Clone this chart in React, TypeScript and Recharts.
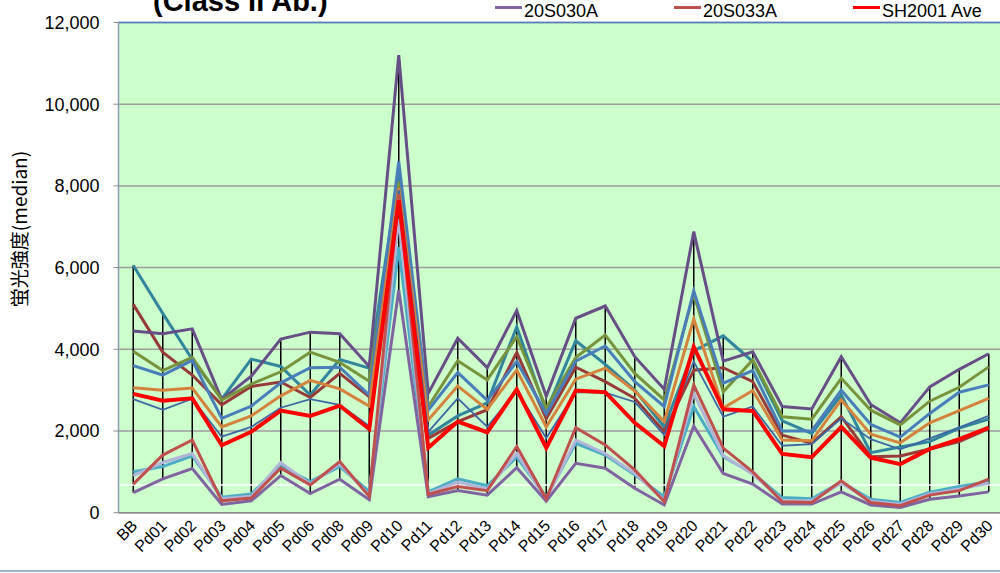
import { ComposedChart, Line, Bar, XAxis, YAxis, CartesianGrid, ReferenceLine } from "recharts";

const categories = [
  "BB", "Pd01", "Pd02", "Pd03", "Pd04", "Pd05", "Pd06", "Pd08", "Pd09", "Pd10",
  "Pd11", "Pd12", "Pd13", "Pd14", "Pd15", "Pd16", "Pd17", "Pd18", "Pd19", "Pd20",
  "Pd21", "Pd22", "Pd23", "Pd24", "Pd25", "Pd26", "Pd27", "Pd28", "Pd29", "Pd30",
];

const yTicks = [0, 2000, 4000, 6000, 8000, 10000, 12000];

// series, left to right
const tealLine = [6050, 4880, 3750, 2780, 3760, 3580, 2880, 3750, 3540, 8300, 1900, 2370, 2690, 4550, 2480, 4210, 3630, 3000, 2100, 3960, 4330, 3700, 2250, 1940, 2880, 1470, 1610, 1740, 2070, 2290];
const darkRedLine = [5100, 3930, 3370, 2640, 3090, 3200, 2820, 3410, 2840, 8050, 1820, 2230, 2520, 3920, 2300, 3560, 3210, 2800, 1980, 3490, 3550, 3210, 1900, 1700, 2350, 1370, 1390, 1560, 1740, 2060];
const purpleDarkLine = [4450, 4380, 4500, 2770, 3340, 4250, 4420, 4380, 3580, 11200, 2920, 4270, 3550, 4950, 2850, 4760, 5060, 3820, 3020, 6880, 3710, 3940, 2600, 2540, 3820, 2650, 2200, 3080, 3510, 3890];
const oliveLine = [3950, 3480, 3800, 2760, 3150, 3450, 3930, 3680, 3220, 8100, 2600, 3720, 3250, 4310, 2560, 3800, 4350, 3410, 2760, 5350, 2960, 3740, 2350, 2290, 3290, 2510, 2150, 2730, 3070, 3570];
const blueLine = [3600, 3370, 3730, 2310, 2610, 3180, 3550, 3560, 2880, 8600, 2510, 3430, 2750, 3700, 2420, 3710, 4080, 3210, 2600, 5430, 3170, 3480, 2000, 2000, 3000, 2160, 1850, 2430, 2950, 3130];
const orangeLine = [3060, 3000, 3050, 2100, 2370, 2860, 3240, 3030, 2610, 7950, 2270, 3100, 2530, 3490, 2100, 3270, 3540, 2980, 2230, 4740, 2560, 2990, 1780, 1760, 2760, 1920, 1710, 2200, 2500, 2800];
const steelLine = [2780, 2520, 2790, 1860, 2100, 2570, 2780, 2640, 2120, 7900, 1980, 2800, 2100, 2990, 1830, 2950, 2940, 2710, 1900, 3700, 2350, 2600, 1640, 1680, 2310, 1800, 1550, 1820, 2090, 2370];
const cyanLine = [1000, 1130, 1390, 380, 460, 1150, 760, 1130, 520, 6500, 510, 830, 660, 1360, 380, 1700, 1410, 930, 390, 2600, 1370, 960, 370, 340, 750, 330, 250, 500, 640, 760];
const lavenderLine = [910, 1230, 1450, 340, 400, 1230, 700, 1200, 420, 7200, 470, 750, 580, 1450, 330, 1780, 1450, 960, 300, 2920, 1400, 940, 300, 290, 720, 280, 210, 460, 580, 720];
const s20S030A = [490, 830, 1080, 200, 290, 910, 470, 820, 320, 5450, 390, 540, 430, 1100, 280, 1210, 1090, 600, 190, 2120, 960, 700, 210, 210, 510, 190, 130, 330, 410, 510];
const s20S033A = [700, 1410, 1780, 290, 360, 1090, 680, 1250, 400, 7800, 450, 640, 540, 1620, 340, 2080, 1660, 1050, 270, 3130, 1580, 1000, 270, 250, 780, 250, 170, 430, 540, 820];
const sh2001Ave = [2910, 2740, 2800, 1650, 1980, 2500, 2370, 2620, 2050, 7650, 1590, 2230, 1970, 3020, 1590, 2990, 2950, 2200, 1630, 4060, 2530, 2490, 1440, 1360, 2100, 1350, 1190, 1560, 1800, 2080];

const series = [
  { key: "teal", values: tealLine, color: "#31859c", width: 3 },
  { key: "darkRed", values: darkRedLine, color: "#983a38", width: 3 },
  { key: "purpleDark", values: purpleDarkLine, color: "#664e86", width: 3 },
  { key: "olive", values: oliveLine, color: "#77933c", width: 3 },
  { key: "blue", values: blueLine, color: "#4a7ebb", width: 3 },
  { key: "orange", values: orangeLine, color: "#d4823c", width: 3 },
  { key: "steel", values: steelLine, color: "#3d68a5", width: 1.8 },
  { key: "cyan", values: cyanLine, color: "#4bacc6", width: 3 },
  { key: "lavender", values: lavenderLine, color: "#b2b4d8", width: 3 },
  { key: "20S030A", values: s20S030A, color: "#8064a2", width: 3 },
  { key: "20S033A", values: s20S033A, color: "#c0504d", width: 3 },
  { key: "SH2001 Ave", values: sh2001Ave, color: "#ff0000", width: 4 },
];

const legendItems = ["20S030A", "20S033A", "SH2001 Ave"];

const rows = categories.map((name, i) => {
  const row: Record<string, any> = { name };
  const vals = series.map((s) => s.values[i]);
  series.forEach((s) => (row[s.key] = s.values[i]));
  row.range = [Math.min(...vals), Math.max(...vals)];
  return row;
});

const FONT = "'Liberation Sans', Arial, sans-serif";

function XTick({ x, y, payload }: any) {
  const tx = x + 5;
  const ty = y + 6;
  return (
    <text x={tx} y={ty} transform={`rotate(-45 ${tx} ${ty})`} textAnchor="end" fontSize={16} fontFamily={FONT} fill="#000">
      {payload.value}
    </text>
  );
}

export default function App() {
  return (
    <div style={{ position: "absolute", left: 0, top: 0, width: 1000, height: 573, overflow: "hidden", background: "#fff" }}>
      <div
        style={{
          position: "absolute",
          left: 153,
          top: -15,
          fontFamily: FONT,
          fontWeight: "bold",
          fontSize: 29,
          whiteSpace: "nowrap",
          color: "#000",
        }}
      >
        (Class II Ab.)
      </div>
      {legendItems.map((name, i) => {
        const s = series.find((d) => d.key === name)!;
        return (
          <div key={name} style={{ position: "absolute", left: 495 + i * 179, top: 0, height: 22, display: "flex", alignItems: "center" }}>
            <div style={{ width: 27, height: 3, background: s.color, marginRight: 2, marginTop: -8 }} />
            <span style={{ fontFamily: FONT, fontSize: 18, color: "#000", lineHeight: "18px" }}>{name}</span>
          </div>
        );
      })}
      <div
        style={{
          position: "absolute",
          left: 18,
          top: 229,
          transform: "translate(-50%, -50%) rotate(-90deg)",
          fontFamily: "'Noto Sans CJK JP', " + FONT,
          fontSize: 19,
          whiteSpace: "nowrap",
          color: "#000",
        }}
      >
        蛍光強度(median)
      </div>
      <div style={{ position: "absolute", left: 0, top: 0 }}>
        <ComposedChart width={1010} height={573} data={rows} margin={{ top: 22.5, right: 6.5, left: 0, bottom: 0 }}>
          <CartesianGrid vertical={false} stroke="#9c9c9c" strokeWidth={1.5} fill="#ccffcc" />
          <XAxis
            dataKey="name"
            height={60.3}
            interval={0}
            tick={<XTick />}
            tickLine={false}
            axisLine={{ stroke: "#8c8c8c", strokeWidth: 1.5 }}
          />
          <YAxis
            width={118.5}
            domain={[0, 12000]}
            ticks={yTicks}
            tickFormatter={(v: number) => v.toLocaleString("en-US")}
            tick={{ fontSize: 18, fontFamily: FONT, fill: "#000" }}
            tickSize={5}
            tickMargin={14}
            tickLine={{ stroke: "#8c8c8c" }}
            axisLine={{ stroke: "#8c9db2", strokeWidth: 1.5 }}
          />
          <ReferenceLine y={12000} stroke="#4f7dbd" strokeWidth={1.5} />
          <ReferenceLine y={680} stroke="#ffffff" strokeWidth={1.5} />
          {series.map((s) => (
            <Line
              key={s.key}
              type="linear"
              dataKey={s.key}
              stroke={s.color}
              strokeWidth={s.width}
              dot={false}
              isAnimationActive={false}
            />
          ))}
          <Bar dataKey="range" fill="#000" barSize={1.5} isAnimationActive={false} />
        </ComposedChart>
      </div>
      <div style={{ position: "absolute", left: 0, top: 570, width: 1000, height: 2, background: "#9fb4cc" }} />
    </div>
  );
}
